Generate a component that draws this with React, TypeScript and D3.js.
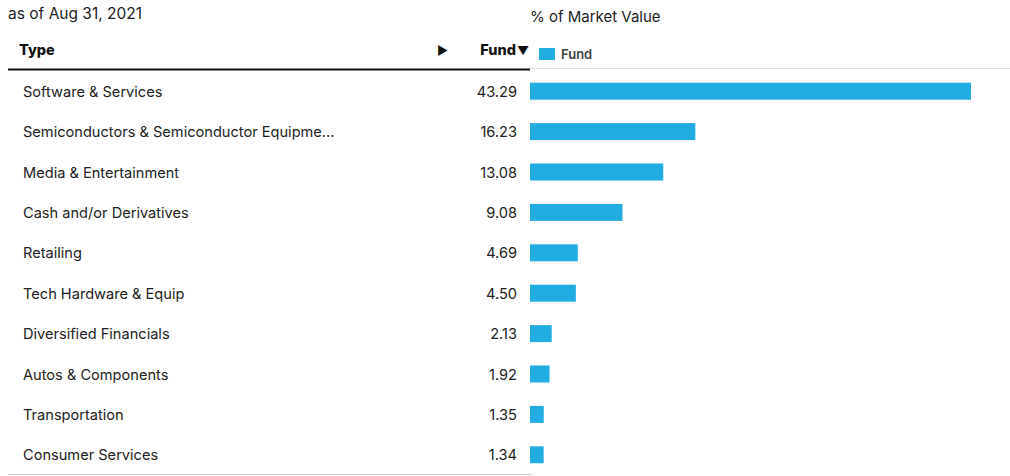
import React from "react";
import * as d3 from "d3";

const categories = [
  "Software & Services",
  "Semiconductors & Semiconductor Equipme...",
  "Media & Entertainment",
  "Cash and/or Derivatives",
  "Retailing",
  "Tech Hardware & Equip",
  "Diversified Financials",
  "Autos & Components",
  "Transportation",
  "Consumer Services",
];
const fundValues = [43.29, 16.23, 13.08, 9.08, 4.69, 4.5, 2.13, 1.92, 1.35, 1.34];
const seriesName = "Fund";
const asOf = "as of Aug 31, 2021";
const axisTitle = "% of Market Value";

const W = 1010;
const H = 476;
const FONT = "Inter, Roboto, 'Noto Sans', sans-serif";
const BAR = "#22ADE2";

export default function App() {
  const y = d3.scaleBand<string>().domain(categories).range([71, 475]).paddingInner(0.58).paddingOuter(0.29);
  const x = d3.scaleLinear().domain([0, 43.29]).range([530, 971]);

  return (
    <svg width={W} height={H} style={{ position: "absolute", left: 0, top: 0 }} fontFamily={FONT}>
      <rect x={0} y={0} width={W} height={H} fill="#fff" />
      <text x={8} y={19} fontSize={15.5} fill="#222">{asOf}</text>
      <text x={530} y={22} fontSize={15} fill="#222">{axisTitle}</text>

      <text x={19} y={55} fontSize={14.5} fontWeight={800} fill="#111">Type</text>
      <text x={437} y={55} fontSize={12} fill="#111">▶</text>
      <text x={516} y={55} fontSize={14.5} fontWeight={800} fill="#111" textAnchor="end">{seriesName}</text>
      <text x={517} y={55} fontSize={12} fill="#111">▼</text>

      <rect x={539} y={48} width={16} height={12} fill={BAR} />
      <text x={561} y={59} fontSize={13} fontWeight={600} fill="#444">{seriesName}</text>

      <line x1={8} x2={530} y1={69.5} y2={69.5} stroke="#111" strokeWidth={2} />
      <line x1={530} x2={1010} y1={68.5} y2={68.5} stroke="#ddd" strokeWidth={1} />
      <line x1={8} x2={532} y1={474.5} y2={474.5} stroke="#ccc" strokeWidth={1} />

      {categories.map((c, i) => {
        const by = y(c)!;
        const cy = by + y.bandwidth() / 2;
        return (
          <g key={c}>
            <text x={23} y={cy + 0.5} dy="0.35em" fontSize={14.6} fill="#222">{c}</text>
            <text x={517} y={cy + 0.5} dy="0.35em" fontSize={14.6} fill="#222" textAnchor="end">
              {fundValues[i].toFixed(2)}
            </text>
            <rect x={x(0)} y={by} width={x(fundValues[i]) - x(0)} height={y.bandwidth()} fill={BAR} />
          </g>
        );
      })}
    </svg>
  );
}
